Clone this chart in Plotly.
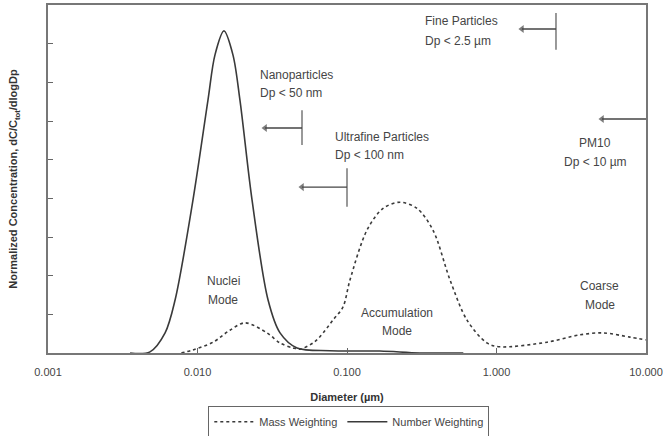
import plotly.graph_objects as go

# ---- data ----
number_d = [0.00354, 0.00481, 0.00607, 0.00708, 0.00933, 0.01175, 0.01309, 0.01503,
            0.01726, 0.01923, 0.02316, 0.02965, 0.03565, 0.0463, 0.0769, 0.1663, 0.3076, 0.6]
number_c = [0.0, 0.03, 0.52, 1.37, 3.96, 6.54, 7.71, 8.33,
            7.71, 6.54, 3.96, 1.37, 0.52, 0.13, 0.06, 0.05, 0.0, 0.0]

mass_d = [0.0078, 0.00933, 0.01271, 0.01648, 0.0208, 0.0292, 0.0356, 0.0436, 0.0485,
          0.0593, 0.0659, 0.0805, 0.0940, 0.1047, 0.1361, 0.1742, 0.2264, 0.2939,
          0.3757, 0.4887, 0.635, 0.863, 1.055, 2.18, 3.62, 5.16, 7.82, 10.0]
mass_c = [0.0, 0.08, 0.28, 0.59, 0.78, 0.52, 0.26, 0.13, 0.10,
          0.26, 0.42, 0.85, 1.19, 1.89, 3.18, 3.74, 3.90, 3.74,
          3.18, 1.89, 0.85, 0.26, 0.16, 0.28, 0.47, 0.52, 0.41, 0.34]

tick_vals = [0.001, 0.01, 0.1, 1, 10]
tick_text = ["0.001", "0.010", "0.100", "1.000", "10.000"]
y_ticks = [0, 1, 2, 3, 4, 5, 6, 7, 8, 9]

# size cut-offs (µm), the arrow tips and their labels
cut_sizes = [2.5, 0.05, 0.1, 10.0]
arrow_tips = [1.48, 0.0283, 0.05, 5.08]
cut_labels = [("Fine Particles", "Dp < 2.5 µm"),
              ("Nanoparticles", "Dp < 50 nm"),
              ("Ultrafine Particles", "Dp < 100 nm"),
              ("PM10", "Dp < 10 µm")]

TXT = "#454545"
LINE = "#3a3a3a"
FONT = "Liberation Sans, Arial, sans-serif"

fig = go.Figure()
fig.add_trace(go.Scatter(x=mass_d, y=mass_c, mode="lines", name="Mass Weighting",
                         line=dict(color=LINE, width=1.6, dash="dot", shape="spline", smoothing=0.9)))
fig.add_trace(go.Scatter(x=number_d, y=number_c, mode="lines", name="Number Weighting",
                         line=dict(color=LINE, width=1.6, shape="spline", smoothing=0.9)))

# vertical cut-off bars (none for PM10: it sits on the frame)
bar_spans = [(7.84, 8.79), (5.38, 6.28), (3.78, 4.78)]
arrow_y = [8.38, 5.82, 4.29, 6.05]
for s, (y0, y1) in zip(cut_sizes[:3], bar_spans):
    fig.add_trace(go.Scatter(x=[s, s], y=[y0, y1], mode="lines", showlegend=False,
                             hoverinfo="skip", line=dict(color="#555", width=1.2)))
# arrows
for s, tip, ya in zip(cut_sizes, arrow_tips, arrow_y):
    fig.add_trace(go.Scatter(x=[s, tip], y=[ya, ya], mode="lines+markers", showlegend=False,
                             hoverinfo="skip", line=dict(color="#444", width=1.4),
                             marker=dict(symbol="triangle-left", size=[0, 7], color="#444",
                                         line=dict(width=0))))

ann = []
def label(xlog, ypx, text, anchor="left"):
    ann.append(dict(x=xlog, y=(353 - ypx) / 38.67, xref="x", yref="y", text=text,
                    showarrow=False, xanchor=anchor, yanchor="middle",
                    font=dict(family=FONT, size=12, color=TXT)))

label(-0.492, 21, cut_labels[0][0]); label(-0.492, 41, cut_labels[0][1])
label(-1.595, 75, cut_labels[1][0]); label(-1.595, 93, cut_labels[1][1])
label(-1.094, 137, cut_labels[2][0]); label(-1.094, 155, cut_labels[2][1])
label(0.659, 143, cut_labels[3][0], "center"); label(0.659, 162, cut_labels[3][1], "center")
label(-1.829, 281, "Nuclei", "center"); label(-1.829, 300, "Mode", "center")
label(-0.666, 313, "Accumulation", "center"); label(-0.666, 331, "Mode", "center")
label(0.692, 286, "Coarse", "center"); label(0.692, 305, "Mode", "center")

fig.update_layout(
    width=663, height=436,
    margin=dict(l=48, r=17, t=5, b=83, autoexpand=False),
    paper_bgcolor="white", plot_bgcolor="white",
    font=dict(family=FONT, color=TXT),
    annotations=ann,
    showlegend=True,
    legend=dict(orientation="h", x=0.503, xanchor="center", y=-0.153, yanchor="top",
                bordercolor="#666", borderwidth=1, font=dict(family=FONT, size=11, color=TXT),
                itemwidth=40, tracegroupgap=0),
)
fig.update_xaxes(type="log", range=[-3, 1], tickvals=tick_vals, ticktext=tick_text,
                 ticks="inside", ticklen=5, tickcolor="#666", showgrid=False, zeroline=False,
                 showline=True, linecolor="#777", linewidth=1.5, mirror=True,
                 tickfont=dict(family=FONT, size=11, color=TXT), ticklabelstandoff=8,
                 title=dict(text="<b>Diameter (µm)</b>", font=dict(family=FONT, size=11, color="#333"),
                            standoff=16))
fig.update_yaxes(range=[0, 9], tickvals=y_ticks, showticklabels=False,
                 ticks="inside", ticklen=5, tickcolor="#666", showgrid=False, zeroline=False,
                 showline=True, linecolor="#777", linewidth=1.5, mirror=True,
                 title=dict(text="<b>Normalized Concentration, dC/C<sub>tot</sub>/dlogDp</b>",
                            font=dict(family=FONT, size=11, color="#333"), standoff=26))

fig.write_html("out.html")
